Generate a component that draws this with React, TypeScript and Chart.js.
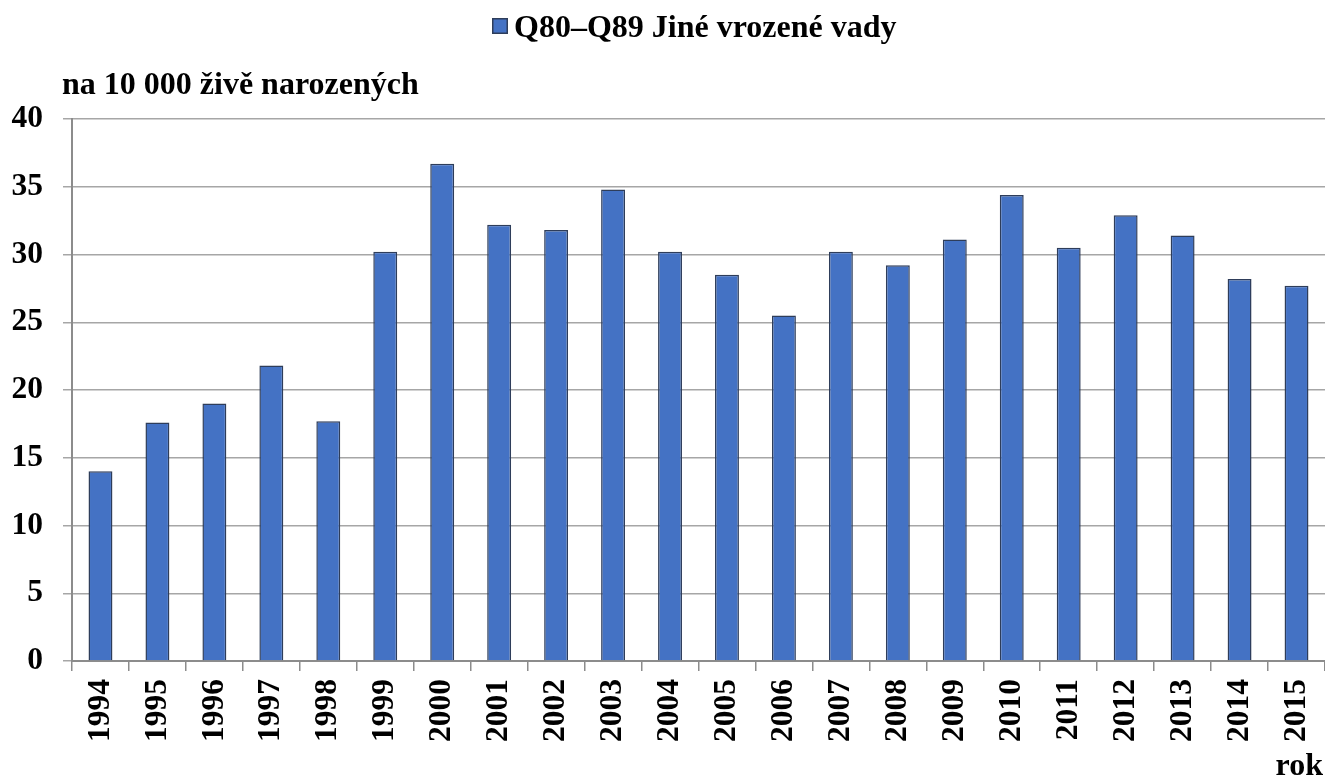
import React, { useEffect, useRef } from "react";
import { Chart, registerables } from "chart.js";

Chart.register(...registerables);

const years = ["1994","1995","1996","1997","1998","1999","2000","2001","2002","2003","2004","2005","2006","2007","2008","2009","2010","2011","2012","2013","2014","2015"];
const values = [14.0, 17.6, 19.0, 21.8, 17.7, 30.2, 36.7, 32.2, 31.8, 34.8, 30.2, 28.5, 25.5, 30.2, 29.2, 31.1, 34.4, 30.5, 32.9, 31.4, 28.2, 27.7];
const seriesLabel = "Q80–Q89 Jiné vrozené vady";
const yAxisTitle = "na 10 000 živě narozených";
const xAxisTitle = "rok";
const yMin = 0;
const yMax = 40;
const yStep = 5;

const FONT = "'Liberation Serif', 'Times New Roman', serif";
const BAR_FILL = "#4472C4";
const BAR_BORDER = "#2E3D5A";
const GRID = "#A6A6A6";
const AXIS = "#8C8C8C";

const textPlugin = {
  id: "extraText",
  afterDraw(chart: any) {
    const ctx = chart.ctx;
    ctx.save();
    ctx.font = `bold 32px ${FONT}`;
    ctx.textBaseline = "alphabetic";
    // legend
    const mx = 492, my = 18, ms = 16;
    ctx.fillStyle = BAR_FILL;
    ctx.fillRect(mx, my, ms, ms);
    ctx.strokeStyle = BAR_BORDER;
    ctx.lineWidth = 1.5;
    ctx.strokeRect(mx + 0.75, my + 0.75, ms - 1.5, ms - 1.5);
    ctx.fillStyle = "#000";
    ctx.textAlign = "left";
    ctx.fillText(seriesLabel, 514, 37);
    // y axis title
    ctx.fillText(yAxisTitle, 62, 94);
    // x axis title
    ctx.textAlign = "right";
    ctx.fillText(xAxisTitle, 1323, 775);
    ctx.restore();
  },
};

export default function App() {
  const ref = useRef<HTMLCanvasElement>(null);
  useEffect(() => {
    if (!ref.current) return;
    const chart = new Chart(ref.current, {
      type: "bar",
      data: {
        labels: years,
        datasets: [
          {
            label: seriesLabel,
            data: values,
            backgroundColor: BAR_FILL,
            borderColor: BAR_BORDER,
            borderWidth: 1.5,
            barPercentage: 0.84,
            categoryPercentage: 0.5,
          },
        ],
      },
      options: {
        responsive: false,
        animation: false,
        layout: { padding: { top: 119, left: 0, right: 0, bottom: 0 } },
        plugins: {
          legend: { display: false },
          title: { display: false },
          tooltip: { enabled: false },
        },
        scales: {
          x: {
            offset: true,
            grid: {
              offset: true,
              drawOnChartArea: false,
              drawTicks: true,
              tickLength: 10,
              color: AXIS,
              lineWidth: 1.5,
            },
            border: { display: true, color: AXIS, width: 2 },
            ticks: {
              color: "#000",
              font: { family: FONT, size: 31.5, weight: "bold" },
              minRotation: 90,
              maxRotation: 90,
              padding: 8,
              autoSkip: false,
            },
            afterFit(scale: any) {
              scale.height = 121;
              scale.paddingLeft = 0;
              scale.paddingRight = 0;
            },
          },
          y: {
            min: yMin,
            max: yMax,
            ticks: {
              stepSize: yStep,
              color: "#000",
              font: { family: FONT, size: 31.5, weight: "bold" },
              padding: 20,
            },
            grid: {
              color: GRID,
              lineWidth: 1.5,
              tickLength: 9,
              drawTicks: true,
            },
            border: { display: true, color: AXIS, width: 2 },
            afterFit(scale: any) {
              scale.width = 72;
            },
          },
        },
      },
      plugins: [textPlugin],
    });
    return () => chart.destroy();
  }, []);
  return (
    <div style={{ position: "absolute", left: 0, top: 0, width: 1325, height: 782, background: "#fff" }}>
      <canvas ref={ref} width={1325} height={782} style={{ width: 1325, height: 782, display: "block" }} />
    </div>
  );
}
